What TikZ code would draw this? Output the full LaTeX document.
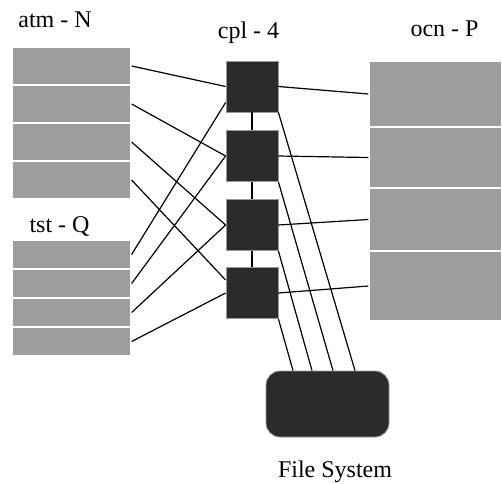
\documentclass[tikz,border=0pt]{standalone}
\usepackage{fontspec}
\setmainfont{Liberation Serif}
\usepackage{tikz}

\definecolor{slab}{HTML}{9D9D9D}
\definecolor{coupler}{HTML}{2B2B2B}

\begin{document}
\begin{tikzpicture}[x=0.5pt, y=-0.5pt,
    row/.style={draw=white, line width=0.6pt, fill=slab, minimum width=59.5pt, inner sep=0pt},
    ocnrow/.style={draw=white, line width=0.6pt, fill=slab, minimum width=66.5pt, inner sep=0pt},
    cplbox/.style={draw=gray!80, line width=0.4pt, fill=coupler, minimum width=26pt, minimum height=25.5pt, inner sep=0pt},
    link/.style={line width=0.6pt, black},
    label/.style={anchor=base, font=\fontsize{12}{14}\selectfont}]
        \useasboundingbox (0,0) rectangle (502,483);

        % atm - N
        \node[label] (atmlabel) at (55, 27) {atm - N};
        \node[row, minimum height=19pt] (atm1) at (71.5, 66) {};
        \node[row, minimum height=19pt] (atm2) at (71.5, 104) {};
        \node[row, minimum height=19pt] (atm3) at (71.5, 142) {};
        \node[row, minimum height=19pt] (atm4) at (71.5, 180) {};

        % tst - Q
        \node[label] (tstlabel) at (59.5, 232) {tst - Q};
        \node[row, minimum height=14.5pt] (tst1) at (71.5, 254.5) {};
        \node[row, minimum height=14.5pt] (tst2) at (71.5, 283.5) {};
        \node[row, minimum height=14.5pt] (tst3) at (71.5, 312.5) {};
        \node[row, minimum height=14.5pt] (tst4) at (71.5, 341.5) {};

        % cpl - 4
        \node[label] (cpllabel) at (248.5, 38) {cpl - 4};
        \node[cplbox] (cpl1) at (252, 86.5) {};
        \node[cplbox] (cpl2) at (252, 156) {};
        \node[cplbox] (cpl3) at (252, 225) {};
        \node[cplbox] (cpl4) at (252, 293) {};
        \draw[link] (cpl1) -- (cpl2);
        \draw[link] (cpl2) -- (cpl3);
        \draw[link] (cpl3) -- (cpl4);

        % ocn - P
        \node[label] (ocnlabel) at (444.5, 36) {ocn - P};
        \node[ocnrow, minimum height=33pt] (ocn1) at (435.5, 94) {};
        \node[ocnrow, minimum height=30.5pt] (ocn2) at (435.5, 157.5) {};
        \node[ocnrow, minimum height=31.5pt] (ocn3) at (435.5, 219.5) {};
        \node[ocnrow, minimum height=35pt] (ocn4) at (435.5, 286) {};

        % File System
        \node[fill=coupler, draw=gray!80, line width=0.4pt, rounded corners=7pt,
            minimum width=61.5pt, minimum height=33pt] (fs) at (327.5, 404) {};
        \node[label] (fslabel) at (335, 477) {File System};

        % atm -> cpl
        \draw[link] (atm1.east) -- (cpl1.west);
        \draw[link] (atm2.east) -- (cpl2.west);
        \draw[link] (atm3.east) -- (cpl3.west);
        \draw[link] (atm4.east) -- ([yshift=6.5pt]cpl4.west);

        % tst -> cpl
        \draw[link] (tst1.east) -- ([yshift=-8pt]cpl1.west);
        \draw[link] (tst2.east) -- (cpl2.west);
        \draw[link] (tst3.east) -- (cpl3.west);
        \draw[link] (tst4.east) -- (cpl4.west);

        % cpl -> ocn
        \draw[link] (cpl1.east) -- (ocn1.west);
        \draw[link] (cpl2.east) -- (ocn2.west);
        \draw[link] (cpl3.east) -- (ocn3.west);
        \draw[link] (cpl4.east) -- (ocn4.west);

        % cpl -> File System
        \draw[link] (cpl1.south east) -- ([xshift=13.75pt]fs.north);
        \draw[link] (cpl2.south east) -- ([xshift=2.75pt]fs.north);
        \draw[link] (cpl3.south east) -- ([xshift=-7.75pt]fs.north);
        \draw[link] (cpl4.south east) -- ([xshift=-17.25pt]fs.north);
    \end{tikzpicture}
\end{document}
